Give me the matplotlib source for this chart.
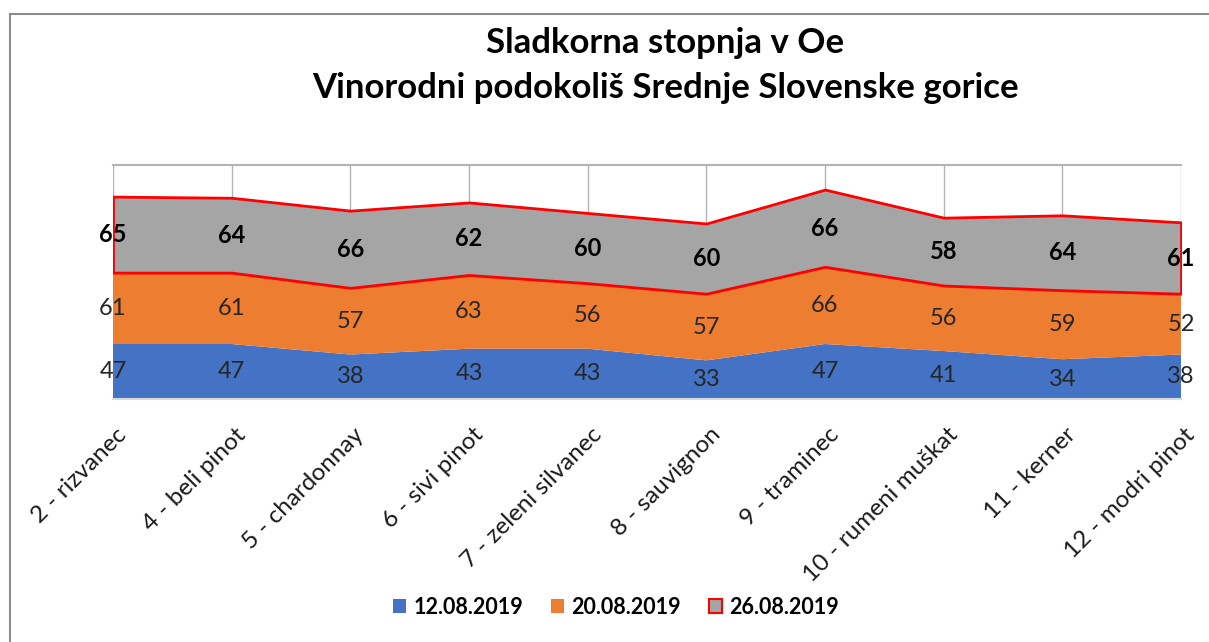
import matplotlib
matplotlib.use("Agg")
import matplotlib.pyplot as plt
import matplotlib.transforms as mtransforms
from matplotlib.patches import Patch
from matplotlib.lines import Line2D
import numpy as np

plt.rcParams['font.family'] = ['Lato', 'DejaVu Sans']

categories = ['2 - rizvanec', '4 - beli pinot', '5 - chardonnay', '6 - sivi pinot',
              '7 - zeleni silvanec', '8 - sauvignon', '9 - traminec',
              '10 - rumeni muškat', '11 - kerner', '12 - modri pinot']
series_names = ['12.08.2019', '20.08.2019', '26.08.2019']
s_1208 = [47, 47, 38, 43, 43, 33, 47, 41, 34, 38]
s_2008 = [61, 61, 57, 63, 56, 57, 66, 56, 59, 52]
s_2608 = [65, 64, 66, 62, 60, 60, 66, 58, 64, 61]

colors = ['#4472C4', '#ED7D31', '#A5A5A5']
edge = [None, None, '#FF0000']

W, H = 1209, 642
fig = plt.figure(figsize=(W / 100, H / 100), dpi=100)
ax = fig.add_axes([113 / W, (H - 399) / H, (1181 - 113) / W, 234 / H])

x = np.arange(len(categories))
base = np.zeros(len(categories))
for vals, name, c, e in zip([s_1208, s_2008, s_2608], series_names, colors, edge):
    vals = np.array(vals, dtype=float)
    top = base + vals
    if e:
        ax.fill_between(x, base, top, facecolor=c, edgecolor=e, linewidth=2, zorder=2)
    else:
        ax.fill_between(x, base, top, facecolor=c, edgecolor='none', zorder=2)
    for xi, b, v in zip(x, base, vals):
        ax.text(xi, b + v / 2, f'{int(v)}', ha='center', va='center', fontsize=17,
                color='#000000' if e else '#262626',
                fontweight='bold' if e else 'normal', zorder=4)
    base = top

ax.set_xlim(0, len(categories) - 1)
ax.set_ylim(0, 200)
ax.set_yticks([])
ax.set_xticks(x)
ax.set_xticklabels(categories, rotation=45, ha='right', va='top',
                   rotation_mode='anchor', fontsize=17.5, color='#1a1a1a')
ax.tick_params(axis='x', length=0, pad=18)
offset = mtransforms.ScaledTranslation(3 / 100, 0, fig.dpi_scale_trans)
for lbl in ax.get_xticklabels():
    lbl.set_transform(lbl.get_transform() + offset)

ax.set_axisbelow(True)
ax.grid(axis='x', color='#b3b3b3', linewidth=1)
ax.axhline(200, color='#b3b3b3', linewidth=1.5, zorder=1, clip_on=False)
for s in ['left', 'right', 'top']:
    ax.spines[s].set_visible(False)
ax.spines['bottom'].set_color('#d9d9d9')
ax.spines['bottom'].set_linewidth(1.5)

fig.text(665 / W, 1 - 43 / H, 'Sladkorna stopnja v Oe', ha='center', va='center',
         fontsize=25, fontweight='bold', color='#000000')
fig.text(665 / W, 1 - 88 / H, 'Vinorodni podokoliš Srednje Slovenske gorice',
         ha='center', va='center', fontsize=25, fontweight='bold', color='#000000')

handles = [Patch(facecolor=c, edgecolor=e if e else c, linewidth=1.5 if e else 0)
           for c, e in zip(colors, edge)]
fig.legend(handles, series_names, loc='center', bbox_to_anchor=(616 / W, 1 - 607 / H),
           ncol=3, frameon=False, prop={'size': 15.5, 'weight': 'bold'},
           handlelength=0.6, handleheight=0.6, handletextpad=0.35, columnspacing=1.3)

# outer chart border (left and top edges visible)
fig.add_artist(Line2D([10 / W, 10 / W], [0, 1 - 14 / H], transform=fig.transFigure,
                      color='#8c8c8c', linewidth=1.5))
fig.add_artist(Line2D([10 / W, 1], [1 - 14 / H, 1 - 14 / H], transform=fig.transFigure,
                      color='#8c8c8c', linewidth=1.5))

fig.savefig('out.png', dpi=100, facecolor='white')
